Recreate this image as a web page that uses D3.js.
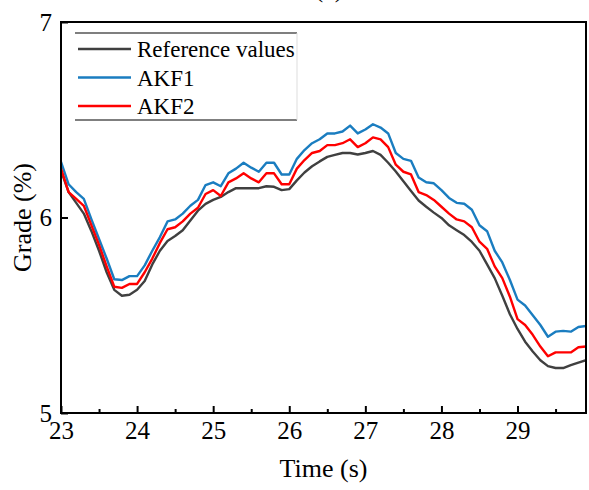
<!DOCTYPE html>
<html>
<head>
<meta charset="utf-8">
<script src="https://cdn.jsdelivr.net/npm/d3@7"></script>
<style>
html,body{margin:0;padding:0;background:#fff;}
svg{display:block;}
svg text{font-family:"Liberation Serif","Times New Roman",serif !important;fill:#000;}
</style>
</head>
<body>
<svg id="chart" width="589" height="490"></svg>
<script>
const time = [23.0,23.1,23.2,23.3,23.4,23.5,23.6,23.7,23.8,23.9,
  24.0,24.1,24.2,24.3,24.4,24.5,24.6,24.7,24.8,24.9,
  25.0,25.1,25.2,25.3,25.4,25.5,25.6,25.7,25.8,25.9,
  26.0,26.1,26.2,26.3,26.4,26.5,26.6,26.7,26.8,26.9,
  27.0,27.1,27.2,27.3,27.4,27.5,27.6,27.7,27.8,27.9,
  28.0,28.1,28.2,28.3,28.4,28.5,28.6,28.7,28.8,28.9,
  29.0,29.1,29.2,29.3,29.4,29.5,29.6,29.7,29.8,29.9];

const referenceValues = [6.24,6.13,6.075,6.02,5.93,5.83,5.72,5.63,5.60,5.605,
  5.63,5.675,5.76,5.83,5.88,5.905,5.935,5.985,6.035,6.07,
  6.09,6.105,6.13,6.15,6.15,6.15,6.15,6.16,6.157,6.14,
  6.145,6.19,6.23,6.262,6.287,6.31,6.32,6.33,6.33,6.322,
  6.33,6.34,6.32,6.28,6.235,6.185,6.135,6.087,6.055,6.025,
  5.998,5.96,5.935,5.91,5.875,5.83,5.76,5.69,5.60,5.505,
  5.43,5.365,5.315,5.27,5.24,5.23,5.23,5.245,5.258,5.27];

const akf1 = [6.285,6.17,6.13,6.095,5.99,5.89,5.79,5.684,5.68,5.70,
  5.70,5.755,5.83,5.90,5.98,5.99,6.02,6.06,6.09,6.166,
  6.18,6.16,6.226,6.25,6.28,6.255,6.234,6.28,6.28,6.22,
  6.22,6.30,6.345,6.38,6.40,6.43,6.43,6.44,6.47,6.43,
  6.45,6.477,6.46,6.43,6.33,6.30,6.29,6.205,6.18,6.175,
  6.14,6.10,6.075,6.07,6.04,5.96,5.93,5.83,5.77,5.68,
  5.58,5.55,5.50,5.45,5.39,5.416,5.42,5.416,5.44,5.445];

const akf2 = [6.25,6.13,6.095,6.06,5.96,5.86,5.75,5.646,5.64,5.66,
  5.66,5.72,5.79,5.87,5.94,5.95,5.98,6.02,6.05,6.12,
  6.14,6.11,6.18,6.20,6.226,6.20,6.18,6.226,6.226,6.17,
  6.17,6.25,6.294,6.33,6.34,6.37,6.37,6.38,6.40,6.36,
  6.38,6.41,6.40,6.36,6.27,6.234,6.22,6.13,6.115,6.09,
  6.055,6.02,5.99,5.98,5.95,5.876,5.84,5.75,5.69,5.595,
  5.48,5.45,5.40,5.34,5.29,5.31,5.31,5.31,5.336,5.34];

const seriesNames = ["Reference values","AKF1","AKF2"];
const seriesColors = ["#404040","#1a7dc0","#ff0000"];
const xTicks = [23,24,25,26,27,28,29];
const xMinorTicks = [23.5,24.5,25.5,26.5,27.5,28.5,29.5];
const yTicks = [5,6,7];
const xDomain = [23, 29.9];
const yDomain = [5, 7];

const FONT = "'Liberation Serif','Times New Roman',serif";
const svg = d3.select("#chart");
const L = 61, R = 586, T = 22, B = 413;
const x = d3.scaleLinear().domain(xDomain).range([L, R]);
const y = d3.scaleLinear().domain(yDomain).range([B, T]);

// partial title at top
svg.append("text").attr("x", 329).attr("y", -3).attr("text-anchor","middle")
  .style("font-family", FONT).attr("font-size", 26).text("(c)");

const seriesData = [referenceValues, akf1, akf2];
const line = d3.line().x((d,i)=>x(time[i])).y(d=>y(d));
const plot = svg.append("g");
plot.append("defs").append("clipPath").attr("id","clip")
  .append("rect").attr("x",L).attr("y",T).attr("width",R-L).attr("height",B-T);
const lines = plot.append("g").attr("clip-path","url(#clip)");
seriesData.forEach((s,k)=>{
  lines.append("path").datum(s).attr("d", line)
    .attr("fill","none").attr("stroke", seriesColors[k])
    .attr("stroke-width", 2.4).attr("stroke-linejoin","round");
});

// axes
const xAxis = d3.axisBottom(x).tickValues(xTicks).tickFormat(d3.format("d"))
  .tickSizeInner(-7).tickSizeOuter(0).tickPadding(8);
const gx = svg.append("g").attr("transform",`translate(0,${B})`).call(xAxis)
  .attr("font-family", null).attr("font-size", null);
gx.selectAll("text").style("font-family", FONT).style("font-size","25px");
const xMinor = d3.axisBottom(x).tickValues(xMinorTicks).tickFormat("").tickSizeInner(-4).tickSizeOuter(0);
const gxm = svg.append("g").attr("transform",`translate(0,${B})`).call(xMinor);

const yAxis = d3.axisLeft(y).tickValues(yTicks).tickFormat(d3.format("d"))
  .tickSizeInner(-7).tickSizeOuter(0).tickPadding(9);
const gy = svg.append("g").attr("transform",`translate(${L},0)`).call(yAxis)
  .attr("font-family", null).attr("font-size", null);
gy.selectAll("text").style("font-family", FONT).style("font-size","25px");

[gx,gxm,gy].forEach(g=>{
  g.select(".domain").remove();
  g.selectAll(".tick line").attr("stroke","#000").attr("stroke-width",2);
});

// frame
svg.append("rect").attr("x",L).attr("y",T).attr("width",R-L).attr("height",B-T)
  .attr("fill","none").attr("stroke","#000").attr("stroke-width",2);

// axis titles
svg.append("text").attr("x",(L+R)/2).attr("y",477).attr("text-anchor","middle")
  .style("font-family", FONT).attr("font-size",26).text("Time (s)");
svg.append("text").attr("transform",`translate(31,${(T+B)/2}) rotate(-90)`)
  .style("font-family", FONT).attr("text-anchor","middle").attr("font-size",26).text("Grade (%)");

// legend
const lg = svg.append("g");
lg.append("rect").attr("x",75).attr("y",33).attr("width",222).attr("height",87)
  .attr("fill","#fff").attr("stroke","none");
lg.append("line").attr("x1",75).attr("x2",297).attr("y1",33).attr("y2",33)
  .attr("stroke","#555").attr("stroke-width",1.5);
lg.append("line").attr("x1",75).attr("x2",297).attr("y1",120).attr("y2",120)
  .attr("stroke","#555").attr("stroke-width",1.5);
lg.append("line").attr("x1",297).attr("x2",297).attr("y1",33).attr("y2",120)
  .attr("stroke","#ddd").attr("stroke-width",1);
const rowY = [49, 77.5, 106];
seriesNames.forEach((n,k)=>{
  lg.append("line").attr("x1",78).attr("x2",131).attr("y1",rowY[k]).attr("y2",rowY[k])
    .attr("stroke",seriesColors[k]).attr("stroke-width",2.4);
  lg.append("text").attr("x",137).attr("y",rowY[k]+8).style("font-family", FONT)
    .attr("font-size",23).text(n);
});
</script>
</body>
</html>
